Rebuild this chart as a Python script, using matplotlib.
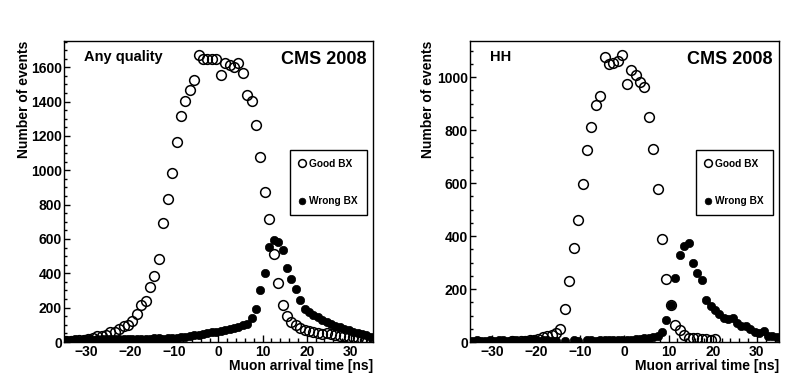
import numpy as np
import matplotlib
matplotlib.use("Agg")
import matplotlib.pyplot as plt
from matplotlib.ticker import MultipleLocator

plt.rcParams['font.family'] = ['Liberation Sans', 'DejaVu Sans']
plt.rcParams['font.weight'] = 'bold'
plt.rcParams['axes.labelweight'] = 'bold'

# bin centres, 1 ns bins from -35 to 35 ns
time_bins = np.arange(-34.5, 35.0, 1.0)

# Any quality
good_any = [4, 6, 7, 10, 12, 16, 22, 33, 35, 41, 57, 58, 76, 93, 101, 122, 161, 214,
            237, 321, 383, 486, 694, 830, 982, 1166, 1316, 1401, 1466, 1524, 1671, 1650,
            1648, 1650, 1648,
            1555, 1625, 1613, 1600, 1627, 1565, 1438, 1403, 1263, 1075, 875, 719, 515, 344,
            214, 152, 117, 97, 84, 68, 62, 56, 50, 47, 50, 44, 40, 36, 33, 30, 28, 24, 20,
            15, 10]
wrong_any = [12, 14, 15, 13, 16, 15, 14, 17, 16, 15, 18, 16, 17, 18, 17,
             18, 20, 19, 18, 20, 21, 22, 20, 23, 24,
             26, 28, 32, 34, 38, 42, 46, 50, 56, 60,
             65, 68, 75, 84, 90, 97, 107, 142, 195, 301,
             399, 554, 593, 583, 535, 431, 364, 311, 247, 195,
             175, 156, 146, 131, 117, 103, 95, 88, 78, 68, 58, 52, 45, 40, 32]

# HH quality
good_hh = [0, 0, 0, 0, 0, 0, 0, 0, 0, 2, 0, 3, 4, 6,
           8, 12, 18, 24, 28, 33, 49, 125, 231, 354, 460, 595, 725, 813, 894, 930,
           1074, 1049, 1054, 1062, 1083,
           975, 1028, 1008, 982, 964, 850, 728, 577, 389, 238, 138, 64, 45, 26, 15,
           15, 15, 10, 11, 8, 11,
           0, 0, 0, 0, 0, 0, 0, 0, 0, 0, 0, 0, 0, 0]
wrong_hh = [5, 6, 5, 4, 6, 5, 7, 6, 5, 6, 7, 5, 6, 8, 6, 5, 7, 6, 5, 4,
            0, 3, 0, 6, 5, 0, 7, 6, 5, 6,
            6, 7, 6, 8, 7, 8, 9, 10, 12, 14,
            16, 20, 24, 37, 83, 140, 243, 328, 362, 372,
            299, 259, 234, 158, 137, 121, 106, 89, 85, 89, 71, 60, 60, 48, 39, 33, 43, 23,
            23, 20]

panels = [
    dict(good=good_any, wrong=wrong_any, tag="Any quality", ymax=1753, left=64, ylab_x=-0.107),
    dict(good=good_hh, wrong=wrong_hh, tag="HH", ymax=1136, left=470, ylab_x=-0.112),
]

W, H = 804, 382
fig = plt.figure(figsize=(W / 100, H / 100), dpi=100)

for p in panels:
    ax = fig.add_axes([p['left'] / W, 40 / H, 309 / W, 301 / H])
    g = np.array(p['good'], dtype=float)
    w = np.array(p['wrong'], dtype=float)
    g[g == 0] = np.nan
    w[w == 0] = np.nan

    ax.plot(time_bins, w, 'o', color='black', markersize=6, markeredgewidth=0.5,
            label='Wrong BX', zorder=3)
    ax.plot(time_bins, g, 'o', markerfacecolor='none', markeredgecolor='black',
            markersize=7, markeredgewidth=1.1, label='Good BX', zorder=4)

    ax.set_xlim(-35, 35)
    ax.set_ylim(0, p['ymax'])
    ax.xaxis.set_major_locator(MultipleLocator(10))
    ax.xaxis.set_minor_locator(MultipleLocator(2))
    ax.yaxis.set_major_locator(MultipleLocator(200))
    ax.yaxis.set_minor_locator(MultipleLocator(50))
    ax.tick_params(axis='both', which='both', direction='in', top=False, right=False,
                   labelsize=10)
    ax.tick_params(axis='x', which='major', length=5, width=1, pad=2.5)
    ax.tick_params(axis='x', which='minor', length=2.8, width=1)
    ax.tick_params(axis='y', which='major', length=4, width=1, pad=1.5)
    ax.tick_params(axis='y', which='minor', length=2.2, width=1)
    for t in ax.xaxis.get_major_ticks() + ax.yaxis.get_major_ticks():
        t.label1.set_fontweight('bold')
    for s in ax.spines.values():
        s.set_linewidth(1.0)

    ax.set_xlabel("Muon arrival time [ns]", fontsize=10, fontweight='bold', loc='right')
    ax.xaxis.set_label_coords(1.0, -0.058)
    ax.xaxis.label.set_va('top')
    ax.set_ylabel("Number of events", fontsize=10, fontweight='bold', loc='top')
    ax.yaxis.set_label_coords(p['ylab_x'], 1.0)

    ax.text(0.065, 0.935, p['tag'], transform=ax.transAxes, fontsize=10.5,
            fontweight='bold', ha='left', va='baseline')
    ax.text(0.98, 0.924, "CMS 2008", transform=ax.transAxes, fontsize=13,
            fontweight='bold', ha='right', va='baseline')

    h, l = ax.get_legend_handles_labels()
    leg = ax.legend(h[::-1], l[::-1], loc='upper left', bbox_to_anchor=(0.731, 0.639),
                    frameon=True, fancybox=False, edgecolor='black', framealpha=1,
                    prop={'weight': 'bold', 'size': 7.3},
                    borderaxespad=0, borderpad=0.9, labelspacing=2.7,
                    handlelength=0.5, handletextpad=0.5, markerscale=0.8)
    leg.get_frame().set_linewidth(1.0)

fig.savefig("out.png", dpi=100)
